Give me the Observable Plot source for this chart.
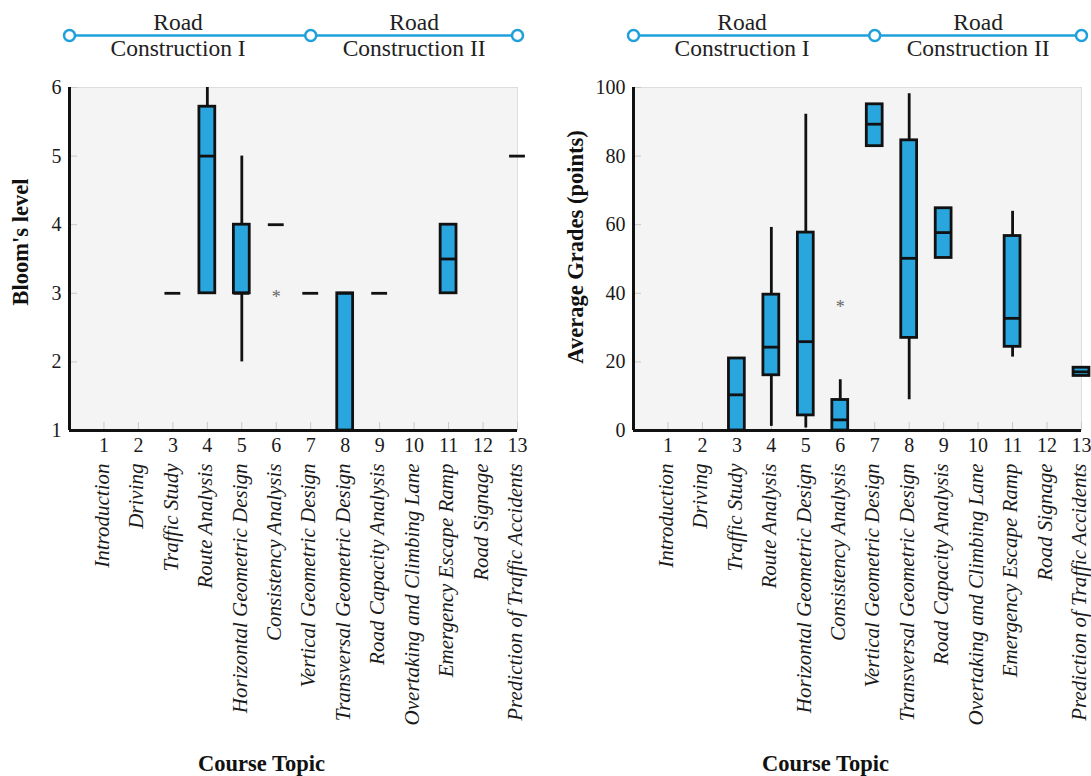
<!DOCTYPE html>
<html>
<head>
<meta charset="utf-8">
<script src="https://cdn.jsdelivr.net/npm/d3@7"></script>
<script src="https://cdn.jsdelivr.net/npm/@observablehq/plot@0.6"></script>
<style>
  html, body { margin: 0; padding: 0; background: #ffffff; }
  #wrap { display: flex; width: 1091px; height: 776px; }
  #wrap svg { display: block; overflow: visible; }
</style>
</head>
<body>
<div id="wrap"></div>
<script>
// ---------- data ----------
const topicNumbers = [1, 2, 3, 4, 5, 6, 7, 8, 9, 10, 11, 12, 13];
const topicNames = [
  "Introduction", "Driving", "Traffic Study", "Route Analysis",
  "Horizontal Geometric Design", "Consistency Analysis", "Vertical Geometric Design",
  "Transversal Geometric Design", "Road Capacity Analysis", "Overtaking and Climbing Lane",
  "Emergency Escape Ramp", "Road Signage", "Prediction of Traffic Accidents"
];

// course blocks shown above each panel
const blockLabels = ["Road\nConstruction I", "Road\nConstruction II"];
const blockStart = [0, 7];
const blockEnd = [7, 13];
const blockLabelAt = [3.15, 10];
const blockNodes = [0, 7, 13];

// Bloom's level (left panel)
const bloomTopic  = [3, 4, 5, 6, 7, 8, 9, 11, 13];
const bloomLow    = [3, 3, 2, 4, 3, 1, 3, 3, 5];
const bloomQ1     = [3, 3, 3, 4, 3, 1, 3, 3, 5];
const bloomMedian = [3, 5, 3, 4, 3, 3, 3, 3.5, 5];
const bloomQ3     = [3, 5.72, 4, 4, 3, 3, 3, 4, 5];
const bloomHigh   = [3, 6, 5, 4, 3, 3, 3, 4, 5];
const bloomOutlierTopic = [6];
const bloomOutlierValue = [3];
const bloomTicks = [1, 2, 3, 4, 5, 6];

// Average grades (right panel)
const gradeTopic  = [3, 4, 5, 6, 7, 8, 9, 11, 13];
const gradeLow    = [0, 1.2, 0.7, 0, 82.9, 9.0, 50.3, 21.4, 15.9];
const gradeQ1     = [0, 16.1, 4.4, 0, 82.9, 27.0, 50.3, 24.4, 15.9];
const gradeMedian = [10.4, 24.3, 25.9, 3.1, 89.3, 50.2, 57.7, 32.7, 17.1];
const gradeQ3     = [21.0, 39.6, 57.7, 8.9, 95.1, 84.6, 64.8, 56.7, 18.3];
const gradeHigh   = [21.0, 59.2, 92.2, 14.8, 95.1, 98.2, 64.8, 63.9, 18.3];
const gradeOutlierTopic = [6];
const gradeOutlierValue = [37.1];
const gradeTicks = [0, 20, 40, 60, 80, 100];

// ---------- styling ----------
const SERIF = "'Liberation Serif', 'DejaVu Serif', serif";
const BLUE = "#2aa6df";
const LINE_BLUE = "#1fa0da";
const INK = "#111111";
const BOX_HALF = 0.23;
const H = 776, MT = 87, MB = 346;

const blocks = blockLabels.map((label, i) => ({label, start: blockStart[i], end: blockEnd[i], at: blockLabelAt[i]}));

function rows(topic, low, q1, med, q3, high) {
  return topic.map((t, i) => ({topic: t, low: low[i], q1: q1[i], median: med[i], q3: q3[i], high: high[i]}));
}

function panel(cfg) {
  const yMax = cfg.yDomain[1];
  const yMin = cfg.yDomain[0];
  const plotW = cfg.width - cfg.marginLeft - cfg.marginRight;
  const plotH = H - MT - MB;
  const outliers = cfg.outTopic.map((t, i) => ({topic: t, value: cfg.outValue[i]}));
  return Plot.plot({
    width: cfg.width,
    height: H,
    marginTop: MT,
    marginBottom: MB,
    marginLeft: cfg.marginLeft,
    marginRight: cfg.marginRight,
    style: {fontFamily: SERIF, fontSize: "20px", color: "#1a1a1a", background: "transparent", overflow: "visible"},
    x: {type: "linear", domain: [0, 13]},
    y: {domain: cfg.yDomain},
    marks: [
      Plot.frame({fill: "#f4f4f4", stroke: "#dddddd", strokeWidth: 1}),
      // light inner tick marks
      Plot.tickX(topicNumbers, {x: d => d, insetTop: plotH - 8, stroke: "#c8c8c8", strokeWidth: 1}),
      Plot.tickY(cfg.yTicks, {y: d => d, insetRight: plotW - 8, stroke: "#c8c8c8", strokeWidth: 1}),
      // whiskers
      Plot.ruleX(cfg.data, {x: "topic", y1: "low", y2: "high", stroke: INK, strokeWidth: 2.8}),
      // boxes
      Plot.rect(cfg.data, {
        x1: d => d.topic - BOX_HALF, x2: d => d.topic + BOX_HALF,
        y1: "q1", y2: "q3", fill: BLUE, stroke: INK, strokeWidth: 2.8
      }),
      // medians
      Plot.ruleY(cfg.data, {
        y: "median", x1: d => d.topic - BOX_HALF, x2: d => d.topic + BOX_HALF,
        stroke: INK, strokeWidth: 2.8
      }),
      // extreme values
      Plot.text(outliers, {x: "topic", y: "value", text: () => "*", fill: "#666", fontSize: 18, dy: 4}),
      // axis lines
      Plot.ruleX([0], {stroke: INK, strokeWidth: 3}),
      Plot.ruleY([yMin], {stroke: INK, strokeWidth: 3}),
      // axes
      Plot.axisY({ticks: cfg.yTicks, tickFormat: d3.format("d"), tickSize: 0, tickPadding: 8, fontSize: 20, label: null}),
      Plot.axisX({ticks: topicNumbers, tickFormat: d3.format("d"), tickSize: 0, tickPadding: 7, fontSize: 20, label: null}),
      Plot.axisX({
        ticks: topicNumbers, tickFormat: d => topicNames[d - 1], tickRotate: -90,
        tickSize: 0, tickPadding: 33, dx: -2, fontSize: 21, fontStyle: "italic", label: null
      }),
      // axis titles
      Plot.text([cfg.yLabel], {
        text: d => d, frameAnchor: "left", textAnchor: "middle", rotate: -90, dx: cfg.yLabelDx, dy: cfg.yLabelDy,
        fontWeight: "bold", fontSize: 22.5, fill: "#111"
      }),
      Plot.text(["Course Topic"], {
        text: d => d, frameAnchor: "bottom", textAnchor: "middle", lineAnchor: "bottom", dx: -32, dy: 340,
        fontWeight: "bold", fontSize: 22.5, fill: "#111"
      }),
      // course block header
      Plot.ruleY(blocks, {x1: "start", x2: "end", y: () => yMax, dy: -52, stroke: LINE_BLUE, strokeWidth: 2.5}),
      Plot.dot(blockNodes, {x: d => d, y: () => yMax, dy: -52, r: 5.5, stroke: LINE_BLUE, strokeWidth: 2.5, fill: "#ffffff"}),
      Plot.text(blocks, {
        x: "at", y: () => yMax, dy: -32, text: "label", lineAnchor: "bottom", lineHeight: 1.09,
        fontSize: 23.5, fill: "#222"
      })
    ]
  });
}

const left = panel({
  width: 545, marginLeft: 69, marginRight: 28,
  yDomain: [1, 6], yTicks: bloomTicks,
  data: rows(bloomTopic, bloomLow, bloomQ1, bloomMedian, bloomQ3, bloomHigh),
  outTopic: bloomOutlierTopic, outValue: bloomOutlierValue,
  yLabel: "Bloom's level", yLabelDx: -49, yLabelDy: -17
});
const right = panel({
  width: 546, marginLeft: 88, marginRight: 10,
  yDomain: [0, 100], yTicks: gradeTicks,
  data: rows(gradeTopic, gradeLow, gradeQ1, gradeMedian, gradeQ3, gradeHigh),
  outTopic: gradeOutlierTopic, outValue: gradeOutlierValue,
  yLabel: "Average Grades (points)", yLabelDx: -58, yLabelDy: -12
});
const wrap = document.getElementById("wrap");
wrap.appendChild(left);
wrap.appendChild(right);
</script>
</body>
</html>
